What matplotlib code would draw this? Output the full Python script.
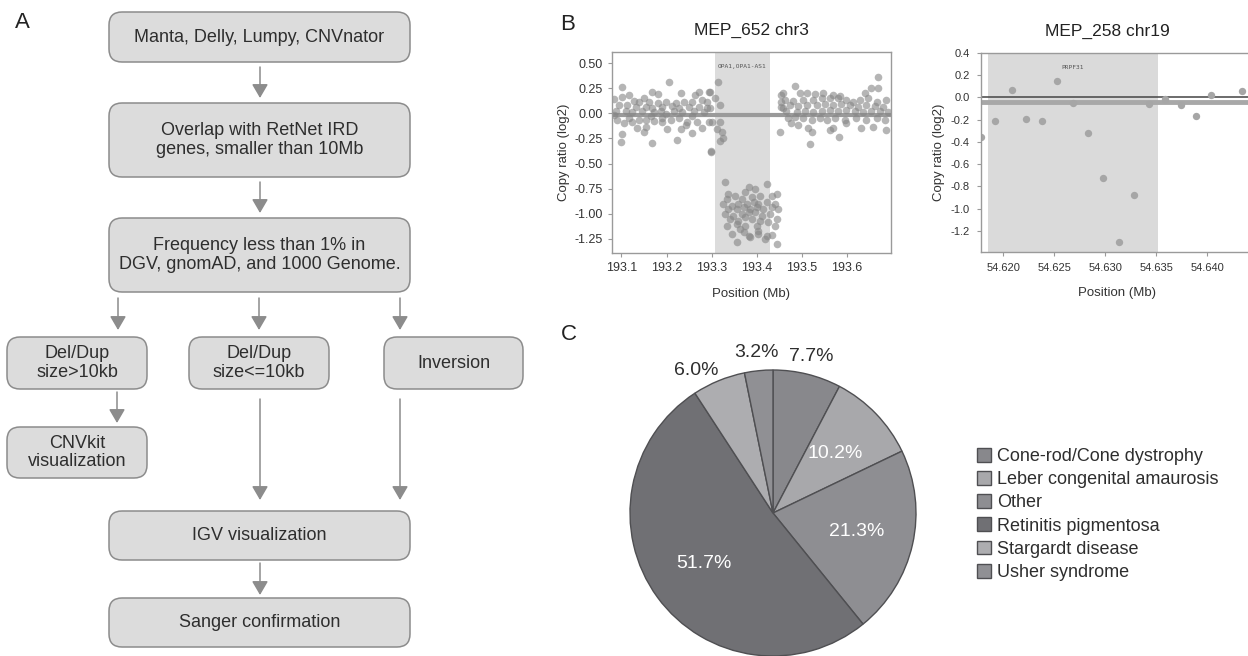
import matplotlib.pyplot as plt
import matplotlib.patches as mpatches
import numpy as np

plt.rcParams['font.family'] = ['Liberation Sans', 'DejaVu Sans']
plt.rcParams['axes.unicode_minus'] = False

W, H = 1248, 656

# ---- panel A: flowchart text ----
flow_text = [
    "Manta, Delly, Lumpy, CNVnator",
    "Overlap with RetNet IRD\ngenes, smaller than 10Mb",
    "Frequency less than 1% in\nDGV, gnomAD, and 1000 Genome.",
    "Del/Dup\nsize>10kb",
    "Del/Dup\nsize<=10kb",
    "Inversion",
    "CNVkit\nvisualization",
    "IGV visualization",
    "Sanger confirmation",
]

# ---- panel B: copy ratio bins (Mb, log2) ----
bins_652 = [
    (193.102, 0.26), (193.205, 0.31), (193.167, 0.21), (193.180, 0.19), (193.233, 0.20),
    (193.263, 0.18), (193.273, 0.21), (193.294, 0.21), (193.084, 0.14), (193.102, 0.16),
    (193.117, 0.18), (193.128, 0.12), (193.139, 0.11), (193.150, 0.15), (193.161, 0.11),
    (193.180, 0.10), (193.198, 0.11), (193.220, 0.10), (193.239, 0.11), (193.257, 0.11),
    (193.279, 0.13), (193.095, 0.08), (193.113, 0.08), (193.132, 0.06), (193.154, 0.06),
    (193.168, 0.05), (193.191, 0.06), (193.213, 0.07), (193.227, 0.05), (193.250, 0.06),
    (193.272, 0.06), (193.290, 0.05), (193.087, 0.02), (193.109, 0.02), (193.124, 0.01),
    (193.146, 0.02), (193.172, 0.01), (193.187, 0.02), (193.216, 0.02), (193.235, 0.01),
    (193.261, 0.02), (193.283, 0.01), (193.091, -0.07), (193.117, -0.05), (193.139, -0.07),
    (193.154, -0.07), (193.172, -0.08), (193.191, -0.09), (193.209, -0.07), (193.227, -0.05),
    (193.246, -0.09), (193.268, -0.09), (193.294, -0.09), (193.106, -0.10), (193.135, -0.15),
    (193.150, -0.19), (193.202, -0.16), (193.231, -0.16), (193.256, -0.20), (193.279, -0.15),
    (193.102, -0.21), (193.098, -0.29), (193.167, -0.30), (193.224, -0.27), (193.298, -0.39),
    (193.154, -0.14), (193.244, -0.12), (193.191, -0.05), (193.124, -0.09), (193.084, -0.02),
    (193.165, -0.03), (193.198, -0.01), (193.257, -0.03),
    (193.315, 0.31), (193.297, 0.21), (193.308, 0.15), (193.290, 0.11), (193.319, 0.08),
    (193.297, 0.05), (193.300, -0.09), (193.319, -0.09), (193.311, -0.16), (193.323, -0.19),
    (193.319, -0.28), (193.326, -0.25), (193.299, -0.38),
    (193.455, 0.18), (193.455, 0.11), (193.452, -0.19), (193.459, 0.05),
    (193.330, -0.68), (193.382, -0.73), (193.422, -0.70), (193.337, -0.80), (193.374, -0.78),
    (193.396, -0.75), (193.334, -0.85), (193.352, -0.82), (193.367, -0.85), (193.389, -0.83),
    (193.407, -0.82), (193.433, -0.82), (193.444, -0.80), (193.326, -0.90), (193.345, -0.92),
    (193.359, -0.90), (193.378, -0.90), (193.393, -0.88), (193.404, -0.90), (193.422, -0.88),
    (193.441, -0.90), (193.337, -0.95), (193.356, -0.95), (193.371, -0.93), (193.385, -0.95),
    (193.400, -0.93), (193.415, -0.95), (193.433, -0.93), (193.448, -0.95), (193.330, -1.00),
    (193.348, -1.02), (193.367, -1.00), (193.382, -0.98), (193.396, -0.98), (193.411, -1.02),
    (193.430, -1.00), (193.341, -1.05), (193.359, -1.07), (193.374, -1.03), (193.389, -1.05),
    (193.407, -1.07), (193.444, -1.05), (193.334, -1.12), (193.356, -1.10), (193.374, -1.12),
    (193.400, -1.12), (193.426, -1.08), (193.363, -1.15), (193.404, -1.17), (193.345, -1.20),
    (193.382, -1.22), (193.422, -1.22), (193.433, -1.21), (193.356, -1.28), (193.385, -1.23),
    (193.418, -1.25), (193.444, -1.30), (193.404, -1.20), (193.441, -1.12), (193.371, -1.18),
    (193.669, 0.36), (193.485, 0.27), (193.459, 0.20), (193.496, 0.20), (193.511, 0.20),
    (193.529, 0.19), (193.548, 0.20), (193.570, 0.18), (193.584, 0.17), (193.640, 0.20),
    (193.654, 0.25), (193.669, 0.25), (193.463, 0.13), (193.481, 0.12), (193.503, 0.13),
    (193.525, 0.13), (193.544, 0.15), (193.562, 0.15), (193.581, 0.15), (193.599, 0.13),
    (193.614, 0.11), (193.629, 0.13), (193.647, 0.15), (193.666, 0.11), (193.688, 0.13),
    (193.455, 0.06), (193.474, 0.08), (193.492, 0.07), (193.511, 0.08), (193.533, 0.08),
    (193.551, 0.09), (193.570, 0.08), (193.588, 0.09), (193.607, 0.08), (193.625, 0.06),
    (193.643, 0.08), (193.662, 0.07), (193.680, 0.06), (193.466, 0.02), (193.489, 0.01),
    (193.507, 0.02), (193.525, 0.01), (193.544, 0.02), (193.562, 0.03), (193.581, 0.02),
    (193.599, 0.03), (193.618, 0.02), (193.636, 0.01), (193.654, 0.02), (193.673, 0.02),
    (193.691, 0.01), (193.470, -0.05), (193.485, -0.04), (193.503, -0.05), (193.522, -0.07),
    (193.540, -0.05), (193.555, -0.07), (193.573, -0.05), (193.596, -0.07), (193.621, -0.05),
    (193.643, -0.07), (193.666, -0.05), (193.684, -0.07), (193.477, -0.10), (193.492, -0.12),
    (193.514, -0.15), (193.522, -0.19), (193.562, -0.17), (193.570, -0.15), (193.599, -0.10),
    (193.632, -0.15), (193.658, -0.14), (193.688, -0.17), (193.518, -0.31), (193.583, -0.24),
]
seg_652 = -0.02
region_652 = (193.307, 193.43)

pos_258 = [54.6178, 54.6192, 54.6208, 54.6222, 54.6238, 54.6253, 54.6268, 54.6283, 54.6298,
           54.6313, 54.6328, 54.6343, 54.6359, 54.6374, 54.6389, 54.6404, 54.6434]
log2_258 = [-0.36, -0.21, 0.07, -0.19, -0.21, 0.15, -0.05, -0.32, -0.72,
            -1.30, -0.88, -0.06, -0.01, -0.07, -0.17, 0.02, 0.06]
seg_258 = -0.045
region_258 = (54.6185, 54.6352)

# ---- panel C: phenotype breakdown ----
pheno = ["Cone-rod/Cone dystrophy", "Leber congenital amaurosis", "Other",
         "Retinitis pigmentosa", "Stargardt disease", "Usher syndrome"]
pheno_pct = [7.7, 10.2, 21.3, 51.7, 6.0, 3.2]
pheno_col = ["#88888c", "#a8a8ab", "#8e8e92", "#707074", "#adadb0", "#909094"]

fig = plt.figure(figsize=(W / 100, H / 100), dpi=100)
fig.patch.set_facecolor('white')

# full-figure canvas for the flowchart and panel letters (pixel units)
ax0 = fig.add_axes([0, 0, 1, 1])
ax0.set_xlim(0, W)
ax0.set_ylim(H, 0)
ax0.axis('off')

box_xy = [(109, 12, 410, 62), (109, 103, 410, 177), (109, 218, 410, 292),
          (7, 337, 147, 389), (189, 337, 329, 389), (384, 337, 523, 389),
          (7, 427, 147, 478), (109, 511, 410, 560), (109, 598, 410, 647)]
for (x0, y0, x1, y1), txt in zip(box_xy, flow_text):
    ax0.add_patch(mpatches.FancyBboxPatch((x0, y0), x1 - x0, y1 - y0,
                  boxstyle='round,pad=0,rounding_size=13',
                  fc='#dcdcdc', ec='#8c8c8c', lw=1.1))
    ax0.text((x0 + x1) / 2, (y0 + y1) / 2, txt, ha='center', va='center',
             fontsize=13, color='#2e2e2e', linespacing=1.15)

arrow_xy = [(260, 67, 98), (260, 182, 213), (118, 298, 330), (259, 298, 330),
            (400, 298, 330), (117, 392, 423), (260, 399, 500), (400, 399, 500),
            (260, 563, 595)]
for x, ya, yb in arrow_xy:
    ax0.annotate('', xy=(x, yb), xytext=(x, ya),
                 arrowprops=dict(arrowstyle='-|>,head_length=0.6,head_width=0.35',
                                 color='#8c8c8c', lw=1.1, mutation_scale=14,
                                 shrinkA=0, shrinkB=0))

for lab, (x, y) in zip("ABC", [(22, 22), (568, 25), (569, 335)]):
    ax0.text(x, y, lab, ha='center', va='center', fontsize=16, color='#222222')


def style_axes(ax):
    for s in ax.spines.values():
        s.set_color('#9a9a9a')
        s.set_linewidth(1.0)
    ax.tick_params(direction='out', length=3, width=0.8, color='#9a9a9a',
                   labelcolor='#333333', labelsize=9)


# ---- B left ----
ax1 = fig.add_axes([612 / W, (H - 253) / H, 279 / W, 201 / H])
bx, by = np.array(bins_652).T
ax1.axvspan(*region_652, color='#dcdcdc', lw=0, zorder=0)
ax1.axhline(seg_652, color='#9a9a9a', lw=3, zorder=1)
ax1.scatter(bx, by, s=30, color='#858585', alpha=0.6, lw=0, zorder=2)
ax1.text(sum(region_652) / 2, 0.47, "OPA1,OPA1-AS1", ha='center', va='center',
         fontsize=4.5, family='DejaVu Sans Mono', color='#555555')
ax1.set_xlim(193.079, 193.698)
ax1.set_ylim(-1.39, 0.61)
ax1.set_xticks([193.1, 193.2, 193.3, 193.4, 193.5, 193.6])
ax1.set_yticks([0.5, 0.25, 0, -0.25, -0.5, -0.75, -1.0, -1.25])
ax1.yaxis.set_major_formatter(plt.FormatStrFormatter('%.2f'))
ax1.set_xlabel("Position (Mb)", fontsize=9.5, color='#333333', labelpad=10)
ax1.set_ylabel("Copy ratio (log2)", fontsize=9.5, color='#333333', labelpad=3)
ax1.set_title("MEP_652 chr3", fontsize=12.5, color='#222222', pad=12)
style_axes(ax1)

# ---- B right ----
ax2 = fig.add_axes([981 / W, (H - 252) / H, 272 / W, 199 / H])
ax2.axvspan(*region_258, color='#dadada', lw=0, zorder=0)
ax2.axhline(seg_258, color='#a8a8a8', lw=3.5, zorder=1)
ax2.axhline(0, color='#444444', lw=1.1, zorder=1)
ax2.scatter(pos_258, log2_258, s=28, color='#a6a6a6', lw=0, zorder=2)
ax2.text(54.6268, 0.27, "PRPF31", ha='center', va='center',
         fontsize=4.5, family='DejaVu Sans Mono', color='#555555')
ax2.set_xlim(54.6178, 54.6445)
ax2.set_ylim(-1.39, 0.4)
ax2.set_xticks([54.620, 54.625, 54.630, 54.635, 54.640])
ax2.set_yticks([0.4, 0.2, 0.0, -0.2, -0.4, -0.6, -0.8, -1.0, -1.2])
ax2.xaxis.set_major_formatter(plt.FormatStrFormatter('%.3f'))
ax2.yaxis.set_major_formatter(plt.FormatStrFormatter('%.1f'))
ax2.spines['right'].set_visible(False)
style_axes(ax2)
ax2.tick_params(labelsize=8, pad=5)
ax2.set_xlabel("Position (Mb)", fontsize=9.5, color='#333333', labelpad=10)
ax2.set_ylabel("Copy ratio (log2)", fontsize=9.5, color='#333333', labelpad=4)
ax2.set_title("MEP_258 chr19", fontsize=12.5, color='#222222', pad=12,
              x=(1107 - 981) / 272)

# ---- C pie ----
ax3 = fig.add_axes([630 / W, 0, 286 / W, 286 / H])
wedges, _ = ax3.pie(pheno_pct, colors=pheno_col, startangle=90, counterclock=False,
                    wedgeprops=dict(edgecolor='#4f4f52', linewidth=1.0))
ax3.set_xlim(-1, 1)
ax3.set_ylim(-1, 1)
for w, p in zip(wedges, pheno_pct):
    mid = ((w.theta1 + w.theta2) / 2) % 360
    if p < 9:
        ang, r = np.deg2rad(mid + (6 if mid > 105 else 0)), 1.13
    else:
        ang, r = np.deg2rad(mid), 0.6
    ax3.text(r * np.cos(ang), r * np.sin(ang), f"{p:.1f}%", ha='center', va='center',
             fontsize=14, color='#2e2e2e' if p < 9 else 'white', clip_on=False)
leg = ax3.legend(wedges, pheno, loc='upper left', frameon=False,
                 bbox_to_anchor=(977 / W, (H - 448) / H), bbox_transform=fig.transFigure,
                 fontsize=13, handlelength=0.8, handleheight=0.8, handletextpad=0.3,
                 labelspacing=0.33, borderpad=0, borderaxespad=0)
for t in leg.get_texts():
    t.set_color('#2e2e2e')

fig.savefig('out.png', dpi=100, facecolor='white')
